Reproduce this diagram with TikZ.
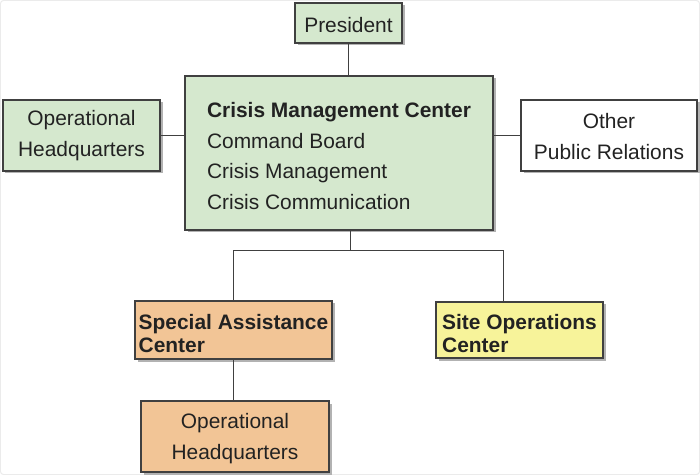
\documentclass[tikz,border=0pt]{standalone}
\usepackage{fontspec}
\setmainfont{Liberation Sans}
\usetikzlibrary{shadows}
\definecolor{boxgreen}{HTML}{D5E8CE}
\definecolor{boxorange}{HTML}{F2C596}
\definecolor{boxyellow}{HTML}{F7F39A}
\definecolor{edgegray}{HTML}{404040}
\definecolor{txt}{HTML}{222222}
\tikzset{
  box/.style={draw=edgegray, line width=1.2bp, inner sep=0pt,
    drop shadow={shadow xshift=2.5bp, shadow yshift=-2.5bp, fill=black!30, opacity=1}},
  lbl/.style={inner sep=0pt, text=txt, font=\fontsize{21}{31}\selectfont, align=center},
  tight/.style={font=\fontsize{21}{23.5}\selectfont\bfseries, align=left},
  conn/.style={draw=edgegray, line width=1bp}
}
\begin{document}
\begin{tikzpicture}[x=1bp,y=-1bp]
\useasboundingbox (0,0) rectangle (700,475);
\draw[black!8, line width=1bp, rounded corners=3bp] (0.5,0.5) rectangle (699.5,474.5);

\node[box, fill=boxgreen, minimum width=107bp, minimum height=40bp] (pres) at (348.5,23) {};
\node[box, fill=boxgreen, minimum width=308bp, minimum height=154bp] (cmc) at (339,153) {};
\node[box, fill=boxgreen, minimum width=157bp, minimum height=71bp] (ophqa) at (81.5,135.5) {};
\node[box, fill=white, minimum width=176bp, minimum height=71bp] (other) at (609,135.5) {};
\node[box, fill=boxorange, minimum width=197bp, minimum height=58bp] (sac) at (233.5,330) {};
\node[box, fill=boxyellow, minimum width=167bp, minimum height=56bp] (soc) at (519.5,330) {};
\node[box, fill=boxorange, minimum width=188bp, minimum height=71bp] (ophqb) at (235,436.5) {};

\node[lbl] (presT) at ([yshift=-2bp]pres.center) {President};
\node[lbl, align=left] (cmcT) at ([yshift=-3bp]cmc.center)
  {\textbf{Crisis Management Center}\\Command Board\\Crisis Management\\Crisis Communication};
\node[lbl] (ophqaT) at (ophqa.center) {Operational\\Headquarters};
\node[lbl] (otherT) at ([yshift=-1bp]other.center) {Other\\Public Relations};
\node[lbl, tight] (sacT) at ([yshift=-3.5bp]sac.center) {Special Assistance\\Center};
\node[lbl, tight] (socT) at ([yshift=-3.5bp]soc.center) {Site Operations\\Center};
\node[lbl] (ophqbT) at ([yshift=-2bp]ophqb.center) {Operational\\Headquarters};

\coordinate (bus) at (350,251);
\coordinate (socin) at (503,302);
\coordinate (sacin) at (233,301);

\draw[conn] (pres.south) -- (pres.south |- cmc.north);
\draw[conn] (ophqa.east) -- (ophqa.east -| cmc.west);
\draw[conn] (other.west) -- (other.west -| cmc.east);
\draw[conn] (bus |- cmc.south) -- (bus);
\draw[conn] (bus) -| (sacin);
\draw[conn] (bus) -| (socin);
\draw[conn] (sac.south -| sacin) -- (sacin |- ophqb.north);
\end{tikzpicture}
\end{document}
